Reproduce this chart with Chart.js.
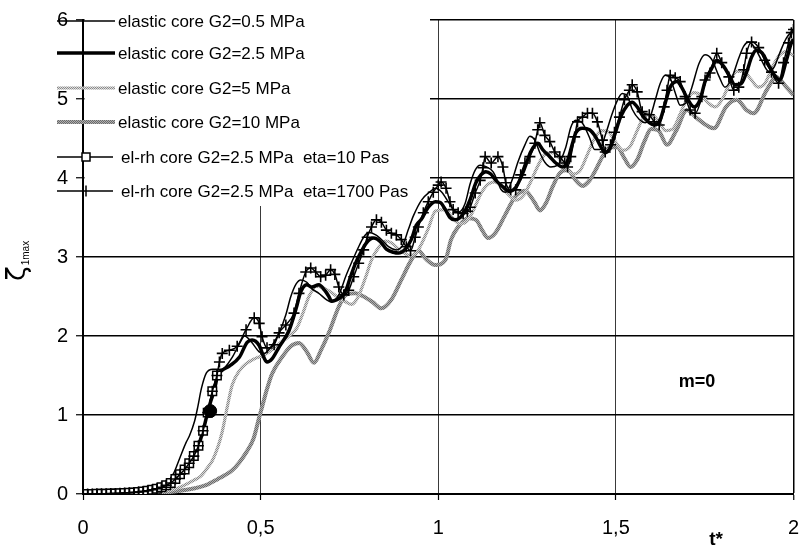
<!DOCTYPE html>
<html><head><meta charset="utf-8">
<script src="https://cdn.jsdelivr.net/npm/chart.js@4/dist/chart.umd.min.js"></script>
<style>html,body{margin:0;padding:0;background:#fff;}#wrap{width:801px;height:546px;}</style>
</head><body><div id="wrap"><canvas id="c" width="801" height="546"></canvas></div>
<script>
// ---- tick labels / legend labels ----
const xTickValues = [0, 0.5, 1, 1.5, 2];
const yTickValues = [0, 1, 2, 3, 4, 5, 6];
const seriesNames = [
  'elastic core G2=0.5 MPa',
  'elastic core G2=2.5 MPa',
  'elastic core G2=5 MPa',
  'elastic core G2=10 MPa',
  'el-rh core G2=2.5 MPa  eta=10 Pas',
  'el-rh core G2=2.5 MPa  eta=1700 Pas'
];

// ---- elastic core G2=0.5 MPa ----
const tG05 = [0,0.05,0.1,0.15,0.2,0.235,0.255,0.272,0.29,0.3,
  0.314,0.323,0.333,0.347,0.365,0.39,0.42,0.44,0.455,0.473,
  0.496,0.51,0.529,0.552,0.571,0.585,0.6,0.613,0.63,0.644,
  0.664,0.685,0.7,0.72,0.74,0.756,0.776,0.79,0.804,0.824,
  0.845,0.86,0.882,0.9,0.916,0.93,0.953,0.978,0.992,1.01,
  1.028,1.042,1.058,1.075,1.09,1.104,1.118,1.136,1.154,1.168,
  1.176,1.19,1.21,1.224,1.244,1.258,1.272,1.286,1.3,1.317,
  1.335,1.359,1.373,1.387,1.405,1.426,1.44,1.455,1.47,1.49,
  1.504,1.518,1.532,1.546,1.566,1.583,1.597,1.611,1.625,1.639,
  1.653,1.667,1.681,1.697,1.714,1.734,1.751,1.77,1.79,1.807,
  1.825,1.846,1.86,1.874,1.892,1.91,1.93,1.945,1.961,1.98,
  2.0];
const yG05 = [0,0.005,0.01,0.03,0.07,0.14,0.26,0.45,0.65,0.74,
  0.92,1.1,1.33,1.53,1.58,1.58,1.73,1.9,2.0,1.93,
  1.8,1.78,1.86,2.04,2.27,2.5,2.66,2.71,2.68,2.6,
  2.54,2.46,2.43,2.52,2.76,2.93,3.13,3.25,3.31,3.28,
  3.2,3.13,3.09,3.15,3.35,3.52,3.72,3.83,3.87,3.82,
  3.7,3.6,3.57,3.67,3.93,4.1,4.16,4.14,4.08,3.95,
  3.86,3.82,4.0,4.2,4.42,4.53,4.48,4.32,4.2,4.14,
  4.16,4.39,4.64,4.73,4.7,4.51,4.36,4.36,4.54,4.82,
  4.98,5.07,5.04,4.87,4.74,4.7,4.78,4.99,5.2,5.3,
  5.26,5.08,4.92,4.95,5.15,5.45,5.56,5.5,5.29,5.15,
  5.25,5.52,5.67,5.72,5.64,5.49,5.35,5.4,5.58,5.77,
  5.88];

// ---- elastic core G2=2.5 MPa ----
const tG25 = [0,0.05,0.1,0.14,0.188,0.216,0.24,0.253,0.267,0.28,
  0.295,0.309,0.323,0.332,0.342,0.35,0.36,0.37,0.379,0.39,
  0.412,0.44,0.462,0.476,0.496,0.51,0.518,0.532,0.552,0.58,
  0.6,0.613,0.63,0.644,0.664,0.68,0.692,0.7,0.715,0.728,
  0.742,0.753,0.767,0.781,0.798,0.818,0.838,0.854,0.874,0.888,
  0.907,0.924,0.938,0.953,0.972,0.992,1.006,1.02,1.033,1.047,
  1.062,1.075,1.09,1.106,1.12,1.134,1.148,1.162,1.182,1.2,
  1.218,1.232,1.246,1.26,1.28,1.294,1.314,1.331,1.35,1.364,
  1.378,1.387,1.406,1.426,1.443,1.457,1.47,1.484,1.499,1.513,
  1.532,1.546,1.56,1.577,1.594,1.608,1.625,1.639,1.653,1.672,
  1.686,1.703,1.72,1.737,1.751,1.77,1.784,1.804,1.821,1.835,
  1.852,1.868,1.882,1.896,1.912,1.93,1.947,1.961,1.98,1.994,
  2.0];
const yG25 = [0,0.003,0.01,0.02,0.04,0.07,0.11,0.16,0.22,0.28,
  0.37,0.46,0.58,0.71,0.87,1.02,1.18,1.32,1.5,1.56,
  1.62,1.73,1.92,1.95,1.88,1.72,1.67,1.71,1.86,2.07,
  2.35,2.56,2.65,2.62,2.65,2.58,2.5,2.44,2.46,2.5,
  2.6,2.75,2.92,3.05,3.18,3.24,3.19,3.1,3.06,3.05,
  3.1,3.22,3.4,3.48,3.63,3.7,3.69,3.6,3.5,3.47,
  3.5,3.58,3.73,3.94,4.04,4.08,4.05,3.97,3.89,3.83,
  3.88,4.0,4.16,4.33,4.44,4.36,4.27,4.19,4.14,4.22,
  4.44,4.57,4.63,4.61,4.52,4.4,4.32,4.38,4.58,4.77,
  4.92,4.96,4.9,4.78,4.7,4.67,4.74,4.95,5.15,5.22,
  5.14,4.99,4.9,4.99,5.22,5.39,5.49,5.41,5.28,5.18,
  5.19,5.34,5.53,5.62,5.58,5.43,5.3,5.24,5.49,5.71,
  5.76];

// ---- elastic core G2=5 MPa ----
const tG5 = [0,0.1,0.2,0.25,0.28,0.31,0.33,0.35,0.364,0.38,
  0.392,0.406,0.42,0.44,0.459,0.482,0.504,0.524,0.552,0.58,
  0.602,0.62,0.636,0.658,0.68,0.7,0.72,0.74,0.756,0.775,
  0.796,0.812,0.832,0.851,0.868,0.896,0.922,0.945,0.972,0.992,
  1.02,1.04,1.06,1.08,1.1,1.12,1.14,1.16,1.18,1.2,
  1.22,1.24,1.26,1.28,1.3,1.32,1.34,1.36,1.38,1.4,
  1.42,1.44,1.46,1.48,1.5,1.52,1.54,1.56,1.58,1.6,
  1.62,1.64,1.66,1.68,1.7,1.72,1.74,1.76,1.78,1.8,
  1.82,1.84,1.86,1.88,1.9,1.92,1.94,1.96,1.98,2.0];
const yG5 = [0,0.003,0.02,0.05,0.1,0.17,0.22,0.33,0.42,0.6,
  0.79,1.1,1.38,1.56,1.65,1.71,1.75,1.8,1.9,2.0,
  2.1,2.3,2.5,2.63,2.6,2.55,2.48,2.43,2.4,2.5,
  2.75,2.96,3.12,3.2,3.18,3.07,3.02,3.1,3.36,3.58,
  3.6,3.5,3.42,3.45,3.6,3.8,3.92,3.95,3.88,3.78,
  3.72,3.78,3.95,4.15,4.3,4.32,4.25,4.12,4.05,4.1,
  4.3,4.5,4.6,4.58,4.45,4.35,4.4,4.6,4.78,4.8,
  4.72,4.6,4.62,4.8,5.0,5.08,5.05,4.95,4.9,5.0,
  5.2,5.35,5.35,5.25,5.15,5.2,5.4,5.55,5.6,5.55];

// ---- elastic core G2=10 MPa ----
const tG10 = [0,0.1,0.2,0.3,0.35,0.38,0.4,0.42,0.44,0.46,
  0.48,0.496,0.504,0.518,0.532,0.56,0.585,0.608,0.63,0.65,
  0.67,0.692,0.72,0.74,0.767,0.79,0.815,0.84,0.868,0.896,
  0.924,0.945,0.964,0.992,1.02,1.036,1.056,1.084,1.106,1.126,
  1.14,1.16,1.188,1.216,1.244,1.27,1.286,1.303,1.322,1.342,
  1.364,1.387,1.406,1.426,1.443,1.462,1.482,1.504,1.524,1.541,
  1.56,1.58,1.6,1.62,1.644,1.67,1.7,1.73,1.776,1.81,
  1.84,1.868,1.888,1.924,1.952,1.98,2.0];
const yG10 = [0,0.002,0.01,0.06,0.12,0.19,0.24,0.3,0.4,0.53,
  0.7,0.97,1.1,1.33,1.52,1.73,1.87,1.91,1.8,1.66,
  1.82,2.04,2.37,2.52,2.54,2.5,2.43,2.35,2.46,2.71,
  2.96,3.08,2.98,2.9,2.96,3.22,3.38,3.49,3.47,3.32,
  3.24,3.3,3.53,3.76,3.84,3.7,3.59,3.68,3.89,4.06,
  4.1,3.97,3.9,3.97,4.1,4.27,4.39,4.39,4.25,4.14,
  4.23,4.46,4.62,4.6,4.42,4.6,4.86,4.75,4.63,4.9,
  4.99,4.86,4.82,5.11,5.28,5.15,5.05];

// ---- el-rh core eta=10 Pas (square markers) ----
const tEta10 = [0,0.013,0.026,0.039,0.052,0.065,0.078,0.091,0.104,0.117,
  0.13,0.143,0.156,0.169,0.182,0.195,0.208,0.221,0.234,0.247,
  0.26,0.273,0.286,0.299,0.312,0.325,0.338,0.351,0.364,0.377];
const yEta10 = [0,0,0,0.002,0.003,0.004,0.005,0.007,0.009,0.012,
  0.016,0.02,0.026,0.033,0.042,0.053,0.067,0.085,0.11,0.14,
  0.19,0.25,0.31,0.39,0.48,0.61,0.8,1.03,1.3,1.5];

// ---- el-rh core eta=1700 Pas (cross markers) ----
const tEta1700 = [0,0.013,0.026,0.039,0.052,0.065,0.078,0.091,0.104,0.117,
  0.13,0.143,0.156,0.169,0.182,0.195,0.208,0.221,0.234,0.247,
  0.26,0.273,0.286,0.299,0.312,0.325,0.338,0.351,0.364,0.377,
  0.384,0.392,0.412,0.434,0.459,0.482,0.496,0.504,0.518,0.538,
  0.552,0.571,0.594,0.608,0.627,0.641,0.655,0.669,0.683,0.697,
  0.709,0.72,0.734,0.748,0.762,0.776,0.79,0.8,0.812,0.826,
  0.84,0.854,0.868,0.882,0.896,0.91,0.922,0.935,0.944,0.958,
  0.972,0.986,1.0,1.008,1.022,1.033,1.042,1.056,1.07,1.082,
  1.09,1.104,1.118,1.126,1.132,1.149,1.168,1.182,1.19,1.204,
  1.218,1.232,1.244,1.258,1.272,1.28,1.286,1.3,1.314,1.328,
  1.342,1.356,1.364,1.373,1.384,1.392,1.406,1.42,1.434,1.448,
  1.462,1.47,1.485,1.496,1.51,1.524,1.538,1.546,1.56,1.574,
  1.594,1.608,1.622,1.636,1.644,1.653,1.667,1.681,1.695,1.709,
  1.723,1.742,1.751,1.765,1.784,1.798,1.818,1.832,1.846,1.86,
  1.868,1.882,1.902,1.919,1.938,1.958,1.972,1.986,1.994,2.0];
const yEta1700 = [0,0,0,0.002,0.003,0.004,0.005,0.007,0.009,0.012,
  0.016,0.02,0.026,0.033,0.042,0.053,0.067,0.085,0.11,0.14,
  0.19,0.25,0.31,0.39,0.48,0.61,0.8,1.03,1.3,1.5,
  1.67,1.78,1.82,1.87,2.08,2.23,2.16,1.99,1.85,1.89,
  2.04,2.14,2.29,2.54,2.81,2.86,2.81,2.75,2.77,2.84,
  2.78,2.62,2.52,2.58,2.75,2.92,3.09,3.25,3.38,3.47,
  3.44,3.34,3.3,3.28,3.22,3.13,3.08,3.25,3.38,3.56,
  3.7,3.82,3.91,3.95,3.87,3.7,3.6,3.56,3.55,3.58,
  3.63,3.81,3.97,4.13,4.27,4.19,4.27,4.14,3.94,3.85,
  3.85,4.04,4.19,4.27,4.44,4.61,4.7,4.54,4.46,4.33,
  4.27,4.19,4.14,4.27,4.52,4.71,4.77,4.82,4.82,4.71,
  4.48,4.33,4.42,4.58,4.77,4.99,5.11,5.18,5.09,4.84,
  4.8,4.71,4.67,4.9,5.11,5.3,5.27,5.22,5.03,4.86,
  4.82,5.03,5.24,5.33,5.58,5.46,5.28,5.11,5.15,5.37,
  5.58,5.72,5.65,5.49,5.34,5.2,5.46,5.71,5.84,5.88];

// ---- single filled marker ----
const tDot = [0.358];
const yDot = [1.05];

const pts = (ts, ys) => ts.map((t, i) => ({ x: t, y: ys[i] }));

const canvas = document.getElementById('c');
const ctx0 = canvas.getContext('2d');
function makePattern(c1, c2) {
  const cv = document.createElement('canvas');
  cv.width = 2; cv.height = 2;
  const g = cv.getContext('2d');
  g.fillStyle = c2; g.fillRect(0, 0, 2, 2);
  g.fillStyle = c1; g.fillRect(0, 0, 1, 1); g.fillRect(1, 1, 1, 1);
  return ctx0.createPattern(cv, 'repeat');
}
const patLight = makePattern('#8a8a8a', '#dcdcdc');
const patGrey = makePattern('#6a6a6a', '#b0b0b0');

const styles = [
  { color: '#000', width: 1.5 },
  { color: '#000', width: 3.5 },
  { color: patLight, width: 3.2 },
  { color: patGrey, width: 4 },
  { color: '#000', width: 1.5, marker: 'rect' },
  { color: '#000', width: 1.5, marker: 'cross' }
];

const common = { fill: false, cubicInterpolationMode: 'monotone', pointRadius: 0, pointHoverRadius: 0 };

const datasets = [
  Object.assign({}, common, { label: seriesNames[3], data: pts(tG10, yG10), borderColor: patGrey, borderWidth: 4, order: 6 }),
  Object.assign({}, common, { label: seriesNames[2], data: pts(tG5, yG5), borderColor: patLight, borderWidth: 3.2, order: 5 }),
  Object.assign({}, common, { label: seriesNames[0], data: pts(tG05, yG05), borderColor: '#000', borderWidth: 1.5, order: 4 }),
  Object.assign({}, common, { label: seriesNames[1], data: pts(tG25, yG25), borderColor: '#000', borderWidth: 3.5, order: 3 }),
  Object.assign({}, common, { label: seriesNames[4], data: pts(tEta10, yEta10), borderColor: '#000', borderWidth: 1.5,
    pointStyle: 'rect', pointRadius: 6, pointBackgroundColor: '#fff', pointBorderColor: '#000', pointBorderWidth: 1.5, order: 2 }),
  Object.assign({}, common, { label: seriesNames[5], data: pts(tEta1700, yEta1700), borderColor: '#000', borderWidth: 1.5,
    pointStyle: 'cross', pointRadius: 5.5, pointBorderColor: '#000', pointBorderWidth: 1.6, order: 1 }),
  { label: 'dot', data: pts(tDot, yDot), showLine: false, pointStyle: 'circle', pointRadius: 6.5,
    pointBackgroundColor: '#000', pointBorderColor: '#000', order: 0 }
];

const LEG = { x0: 57, x1: 115, textX: 118, ys: [21, 53, 88, 122, 157, 191] };

const decor = {
  id: 'decor',
  beforeDatasetsDraw(chart) {
    const c = chart.ctx;
    c.save();
    c.fillStyle = '#fff';
    c.fillRect(84.5, 10, 430 - 84.5, 196);
    c.restore();
  },
  afterDraw(chart) {
    const c = chart.ctx;
    c.save();
    // legend
    c.font = '17px "Liberation Sans", Arial, sans-serif';
    c.textBaseline = 'middle';
    c.fillStyle = '#000';
    styles.forEach((s, i) => {
      const y = LEG.ys[i];
      c.beginPath();
      c.lineWidth = s.width;
      c.strokeStyle = s.color;
      const x1 = i >= 4 ? 113 : LEG.x1;
      c.moveTo(LEG.x0, y); c.lineTo(x1, y); c.stroke();
      if (s.marker === 'rect') {
        c.fillStyle = '#fff'; c.fillRect(82, y - 4, 8, 8);
        c.lineWidth = 1.5; c.strokeStyle = '#000'; c.strokeRect(82, y - 4, 8, 8);
      } else if (s.marker === 'cross') {
        c.lineWidth = 1.5; c.strokeStyle = '#000';
        c.beginPath(); c.moveTo(86, y - 5.5); c.lineTo(86, y + 5.5); c.stroke();
      }
      c.fillStyle = '#000';
      c.fillText(seriesNames[i], i >= 4 ? 121 : LEG.textX, y + 1);
    });
    // y axis title
    c.save();
    c.translate(25, 281);
    c.rotate(-Math.PI / 2);
    c.textBaseline = 'alphabetic';
    c.font = '27px "DejaVu Sans", sans-serif';
    c.fillText('\u03B6', 0, 0);
    const w = c.measureText('\u03B6').width;
    c.font = '10px "Liberation Sans", Arial, sans-serif';
    c.fillText('1max', w + 1, 4);
    c.restore();
    // x axis title
    c.font = 'bold 19px "Liberation Sans", Arial, sans-serif';
    c.textAlign = 'center';
    c.textBaseline = 'alphabetic';
    c.fillText('t*', 716, 545);
    // annotation
    c.font = 'bold 18px "Liberation Sans", Arial, sans-serif';
    c.textBaseline = 'middle';
    c.fillText('m=0', 697, 382);
    c.restore();
  }
};

new Chart(canvas, {
  type: 'line',
  data: { datasets },
  options: {
    responsive: false,
    devicePixelRatio: 1,
    animation: false,
    events: [],
    layout: { padding: { left: 0, right: 4, top: 20, bottom: 0 } },
    plugins: { legend: { display: false }, tooltip: { enabled: false } },
    scales: {
      x: {
        type: 'linear', min: 0, max: 2,
        afterBuildTicks: s => { s.ticks = xTickValues.map(v => ({ value: v })); },
        afterFit: s => { s.height = 52; s.paddingLeft = 0; s.paddingRight = 0; },
        ticks: {
          color: '#000', padding: 16, maxRotation: 0, autoSkip: false,
          font: { family: '"Liberation Sans", Arial, sans-serif', size: 20 },
          callback: v => String(v).replace('.', ',')
        },
        grid: {
          color: c => (c.tick && (c.tick.value === 0.5 || c.tick.value === 1 || c.tick.value === 1.5)) ? '#3a3a3a' :
                      (c.tick && c.tick.value === 2 ? '#000' : 'rgba(0,0,0,0)'),
          lineWidth: c => (c.tick && c.tick.value === 2) ? 1.5 : 1,
          tickColor: '#000', tickLength: 6, tickWidth: 1.2
        },
        border: { color: '#000', width: 2 }
      },
      y: {
        type: 'linear', min: 0, max: 6,
        afterBuildTicks: s => { s.ticks = yTickValues.map(v => ({ value: v })); },
        afterFit: s => { s.width = 83; s.paddingTop = 0; s.paddingBottom = 0; },
        ticks: {
          color: '#000', padding: 8,
          font: { family: '"Liberation Sans", Arial, sans-serif', size: 20 }
        },
        grid: {
          color: c => (c.tick && c.tick.value === 0) ? 'rgba(0,0,0,0)' : '#000',
          lineWidth: 1.5, tickColor: '#000', tickLength: 7, tickWidth: 1.2
        },
        border: { color: '#000', width: 2 }
      }
    }
  },
  plugins: [decor]
});
</script></body></html>
